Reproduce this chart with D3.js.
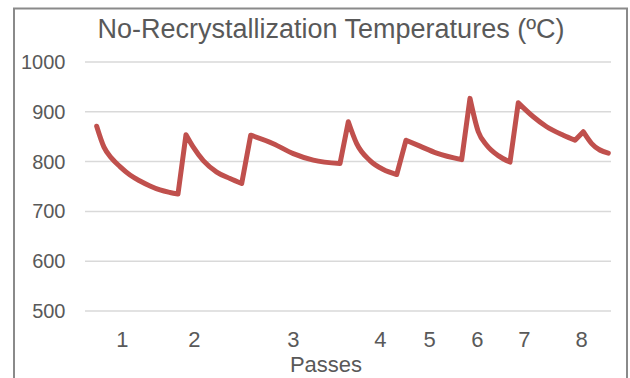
<!DOCTYPE html>
<html>
<head>
<meta charset="utf-8">
<script src="https://cdn.jsdelivr.net/npm/d3@7"></script>
<style>
  html, body { margin: 0; padding: 0; background: #ffffff; }
  svg { display: block; }
  text { font-family: "Liberation Sans", Arial, sans-serif; fill: #595959; }
</style>
</head>
<body>
<svg id="chart" width="630" height="378"></svg>
<script>
// Time along the rolling schedule (arbitrary units) and the no-recrystallization temperature (ºC)
const time = [2.22, 3.61, 5.13, 6.65, 8.56, 10.46, 12.36, 14.26, 16.16, 17.68,
              19.20, 20.59, 22.49, 25.04, 27.57, 29.79,
              31.50, 35.80, 39.60, 43.40, 48.48,
              50.06, 51.65, 54.18, 56.71, 59.26,
              61.03, 63.69, 66.86, 71.61,
              73.19, 74.77, 76.37, 78.57, 80.80,
              82.37, 85.23, 87.77, 90.93, 93.16, 94.73, 96.33, 99.49];
const temperature = [871, 829, 806, 790, 773, 761, 751, 743, 738, 735,
                     854, 829, 802, 779, 766, 756,
                     853, 836, 816, 803, 796,
                     880, 836, 802, 784, 774,
                     843, 831, 817, 804,
                     927, 860, 833, 812, 799,
                     918, 890, 870, 853, 843, 860, 836, 817];

// Where each pass is labelled on the time axis
const passTimes = [7.03, 20.72, 39.54, 56.08, 65.40, 74.52, 83.46, 94.30];
const passLabels = ["1", "2", "3", "4", "5", "6", "7", "8"];

// Temperature axis ticks
const tempTicks = [500, 600, 700, 800, 900, 1000];

const title = "No-Recrystallization Temperatures (ºC)";
const xTitle = "Passes";

const svg = d3.select("#chart");
const plot = { left: 85, right: 611, top: 62, bottom: 311 };

const x = d3.scaleLinear().domain([0, 100]).range([plot.left, plot.right]);
const y = d3.scaleLinear().domain([500, 1000]).range([plot.bottom, plot.top]);

// chart frame
svg.append("rect")
  .attr("x", 14).attr("y", 8.5)
  .attr("width", 613).attr("height", 400)
  .attr("fill", "none")
  .attr("stroke", "#8a8a8a")
  .attr("stroke-width", 2);

// horizontal gridlines
svg.append("g")
  .selectAll("line")
  .data(tempTicks)
  .join("line")
  .attr("x1", plot.left).attr("x2", plot.right)
  .attr("y1", d => y(d)).attr("y2", d => y(d))
  .attr("stroke", "#d9d9d9")
  .attr("stroke-width", 1.5);

// y axis labels
const yAxis = svg.append("g")
  .attr("transform", `translate(${plot.left},0)`)
  .call(d3.axisLeft(y).tickValues(tempTicks).tickSize(0).tickPadding(19.5).tickFormat(d3.format("d")));
yAxis.select(".domain").remove();
yAxis.selectAll("text")
  .style("font-size", "20px")
  .style("font-family", "'Liberation Sans', Arial, sans-serif")
  .attr("fill", "#595959");

// x axis labels at each pass
const xAxis = svg.append("g")
  .attr("transform", `translate(0,${plot.bottom})`)
  .call(d3.axisBottom(x).tickValues(passTimes).tickSize(0).tickPadding(20)
    .tickFormat((d, i) => passLabels[i]));
xAxis.select(".domain").remove();
xAxis.selectAll("text")
  .style("font-size", "22px")
  .style("font-family", "'Liberation Sans', Arial, sans-serif")
  .attr("fill", "#595959");

// temperature line: each cooling stretch is drawn as a smooth curve,
// and the reheat jumps between stretches stay straight
const points = time.map((t, i) => [t, temperature[i]]);
const runs = [];
let current = [points[0]];
for (let i = 1; i < points.length; i++) {
  if (points[i][1] > points[i - 1][1]) {
    runs.push(current);
    current = [points[i]];
  } else {
    current.push(points[i]);
  }
}
runs.push(current);

const runLine = d3.line()
  .x(d => x(d[0]))
  .y(d => y(d[1]))
  .curve(d3.curveMonotoneX);

const pathData = runs
  .map((r, i) => {
    const s = runLine(r);
    return i === 0 ? s : "L" + s.slice(1);
  })
  .join("");

svg.append("path")
  .attr("fill", "none")
  .attr("stroke", "#C0504D")
  .attr("stroke-width", 5)
  .attr("stroke-linejoin", "round")
  .attr("stroke-linecap", "round")
  .attr("d", pathData);

// titles
svg.append("text")
  .attr("x", 331).attr("y", 38)
  .attr("text-anchor", "middle")
  .style("font-size", "27px")
  .text(title);

svg.append("text")
  .attr("x", 326).attr("y", 372)
  .attr("text-anchor", "middle")
  .style("font-size", "22px")
  .text(xTitle);
</script>
</body>
</html>
